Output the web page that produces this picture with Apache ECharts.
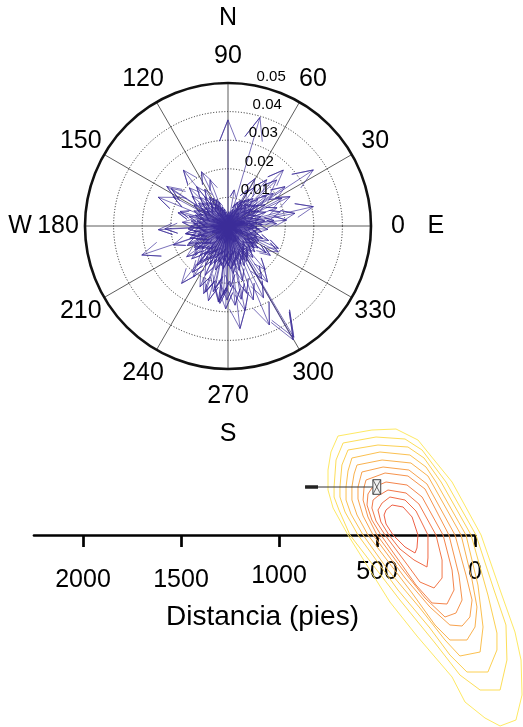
<!DOCTYPE html>
<html><head><meta charset="utf-8">
<script src="https://cdn.jsdelivr.net/npm/echarts@6/dist/echarts.min.js"></script>
<style>html,body{margin:0;padding:0;background:#fff}#c{width:523px;height:727px}</style>
</head><body><div id="c"></div>
<script>
const FONT = '"Liberation Sans", Arial, Helvetica, sans-serif';

// ---- polar (compass) data ----
const angleTicks = [0, 30, 60, 90, 120, 150, 180, 210, 240, 270, 300, 330];
const angleTickLabels = ['0', '30', '60', '90', '120', '150', '180', '210', '240', '270', '300', '330'];
const compassAngles = [0, 90, 180, 270];
const compassLetters = ['E', 'N', 'W', 'S'];
const radiusTicks = [0.01, 0.02, 0.03, 0.04, 0.05];
const radiusTickLabels = ['0.01', '0.02', '0.03', '0.04', '0.05'];

// [angle (deg), magnitude]
const longVectors = [
  [90, 0.0371], [73.6, 0.0396], [33.3, 0.0357], [12.8, 0.0306], [45.3, 0.0275], [10.7, 0.0238],
  [27.2, 0.0212], [43.4, 0.0234], [50.1, 0.0211], [20.4, 0.0183], [6.9, 0.0162], [38.2, 0.0171],
  [55.4, 0.0166], [62.3, 0.0142], [5.8, 0.0206], [35.8, 0.0195], [34.6, 0.0242],
  [299.8, 0.0459], [300.6, 0.0452], [292.7, 0.0375], [276.7, 0.0361], [281.4, 0.0301], [275.1, 0.0278],
  [264.0, 0.0272], [269.2, 0.0259], [263.1, 0.0268], [250.2, 0.0251], [251.3, 0.0244], [231.0, 0.0258],
  [232.4, 0.0204], [231.6, 0.0175], [198.6, 0.0318], [183.0, 0.0244], [182.5, 0.0221], [336.1, 0.0193],
  [332.7, 0.0198], [340.3, 0.0151], [128.6, 0.0250], [116.0, 0.0211], [111.2, 0.0173], [147.1, 0.0255],
  [157.6, 0.0264], [146.5, 0.0238], [151.8, 0.0217], [163.0, 0.0175], [128.5, 0.0176], [199.0, 0.0202],
  [216.6, 0.0180], [235.6, 0.0215], [245.2, 0.0234], [257.4, 0.0235], [262.7, 0.0267], [288.9, 0.0273],
  [285.5, 0.0244], [276.4, 0.0167], [324.7, 0.0163], [320.8, 0.0114], [258.3, 0.0221], [266.1, 0.0240],
  [272.4, 0.0213], [284.8, 0.0198], [245.0, 0.0190], [240.3, 0.0160], [222.1, 0.0171], [215.2, 0.0142],
  [205.4, 0.0158], [190.2, 0.0151], [175.3, 0.0160], [165.1, 0.0181], [140.2, 0.0163], [135.4, 0.0190],
  [122.3, 0.0152], [80.2, 0.0128], [60.4, 0.0190], [25.3, 0.0240], [15.2, 0.0190], [2.8, 0.0170],
  [355.1, 0.0140], [325.2, 0.0180], [310.4, 0.0200], [305.2, 0.0240], [296.3, 0.0280], [302.5, 0.0220],
  [280.2, 0.0260], [268.4, 0.0290], [255.3, 0.0270]
];
const shortVectors = [
  [0.8,0.009],[2.3,0.012],[4.1,0.007],[6.2,0.010],[7.9,0.013],[10.4,0.008],[11.8,0.011],[14.3,0.006],[16.1,0.012],[17.7,0.009],[20.2,0.014],[22.1,0.010],[23.6,0.007],[26.3,0.012],[28.1,0.011],[29.8,0.015],
  [32.4,0.009],[34.1,0.013],[35.7,0.010],[38.3,0.012],[40.2,0.008],[41.7,0.014],[44.2,0.011],[46.3,0.009],[47.8,0.013],[50.4,0.010],[52.1,0.012],[53.6,0.008],[56.2,0.011],[58.3,0.009],[59.7,0.010],
  [62.2,0.007],[64.1,0.010],[65.8,0.006],[68.3,0.009],[70.1,0.005],[71.6,0.008],[74.2,0.006],[76.3,0.004],[77.9,0.005],[80.3,0.003],[82.1,0.004],[83.7,0.003],[86.2,0.005],[88.1,0.003],[89.6,0.004],
  [92.3,0.003],[94.1,0.004],[95.7,0.003],[98.2,0.005],[100.3,0.004],[101.8,0.006],[104.2,0.005],[106.1,0.007],[107.6,0.006],[110.3,0.009],[112.2,0.007],[113.7,0.010],[116.3,0.008],[118.1,0.011],[119.8,0.009],
  [122.2,0.012],[124.1,0.008],[125.8,0.010],[128.3,0.013],[130.1,0.009],[131.7,0.011],[134.2,0.014],[136.3,0.008],[137.8,0.012],[140.4,0.010],[142.1,0.013],[143.6,0.009],[146.2,0.011],[148.3,0.014],[149.7,0.010],
  [152.2,0.012],[154.1,0.009],[155.8,0.013],[158.3,0.011],[160.1,0.008],[161.6,0.012],[164.2,0.010],[166.3,0.014],[167.9,0.009],[170.4,0.011],[172.2,0.013],[173.7,0.010],[176.2,0.012],[178.1,0.009],[179.8,0.013],
  [182.3,0.011],[184.1,0.014],[185.7,0.010],[188.2,0.012],[190.3,0.015],[191.8,0.009],[194.2,0.013],[196.1,0.011],[197.6,0.014],[200.3,0.010],[202.2,0.012],[203.7,0.015],[206.3,0.011],[208.1,0.013],[209.8,0.010],
  [212.2,0.014],[214.1,0.011],[215.8,0.013],[218.3,0.010],[220.1,0.015],[221.6,0.012],[224.2,0.009],[226.3,0.014],[227.9,0.011],[230.4,0.013],[232.2,0.016],[233.7,0.010],[236.2,0.012],[238.1,0.014],[239.8,0.011],
  [242.3,0.013],[244.1,0.010],[245.7,0.015],[248.2,0.012],[250.3,0.014],[251.8,0.011],[254.2,0.016],[256.1,0.013],[257.6,0.010],[260.3,0.014],[262.2,0.012],[263.7,0.015],[266.3,0.011],[268.1,0.013],[269.8,0.014],
  [272.2,0.012],[274.1,0.015],[275.8,0.011],[278.3,0.014],[280.1,0.013],[281.6,0.010],[284.2,0.016],[286.3,0.012],[287.9,0.014],[290.4,0.011],[292.2,0.015],[293.7,0.013],[296.2,0.012],[298.1,0.014],[299.8,0.011],
  [302.3,0.013],[304.1,0.010],[305.7,0.012],[308.2,0.014],[310.3,0.009],[311.8,0.012],[314.2,0.011],[316.1,0.013],[317.6,0.009],[320.3,0.012],[322.2,0.010],[323.7,0.013],[326.3,0.011],[328.1,0.009],[329.8,0.012],
  [332.2,0.010],[334.1,0.012],[335.8,0.008],[338.3,0.011],[340.1,0.013],[341.6,0.009],[344.2,0.011],[346.3,0.007],[347.9,0.010],[350.4,0.012],[352.2,0.008],[353.7,0.011],[356.2,0.009],[358.1,0.010]
];
const tinyVectors = [
  [3.4,0.004],[18.6,0.005],[31.2,0.003],[49.5,0.006],[67.3,0.004],[97.1,0.002],[121.4,0.005],[139.2,0.004],[157.3,0.006],[171.5,0.003],
  [186.4,0.005],[201.2,0.006],[217.5,0.004],[229.1,0.006],[243.6,0.005],[258.9,0.006],[271.3,0.004],[289.2,0.006],[301.5,0.005],[318.4,0.004],
  [333.3,0.006],[348.6,0.003],[9.1,0.006],[43.3,0.005],[127.6,0.006],[193.3,0.004],[211.4,0.005],[238.7,0.006],[253.1,0.004],[282.6,0.005],
  [309.2,0.006],[341.2,0.005],[178.9,0.006],[148.7,0.005],[164.4,0.004],[224.8,0.006],[266.7,0.005],[295.3,0.006],[327.5,0.004],[13.7,0.005]
];

// ---- distance panel data ----
const distanceTicks = [0, 500, 1000, 1500, 2000];
const whiskerFeet = [867, 521];
const whiskerCapFeet = [867, 801];
const boxFeet = [521, 481];
const boxLevel = 48;
// contour polylines [distance (ft), relative level], inner -> outer
const contourLevels = [
  [[454,25],[423,30],[367,28],[321,18],[291,0],[296,-13],[306,-18],[357,-12],[418,0],[454,11],[464,20]],
  [[474,32],[434,38],[357,35],[301,24],[240,0],[240,-23],[245,-32],[311,-25],[383,-14],[439,0],[480,13],[495,25]],
  [[495,39],[444,45],[352,42],[286,31],[199,0],[168,-25],[168,-43],[209,-53],[281,-47],[352,-28],[459,0],[505,14],[526,27],[520,35]],
  [[526,47],[454,53],[347,50],[270,38],[163,0],[117,-35],[107,-55],[143,-69],[219,-68],[301,-50],[480,0],[526,15],[551,30],[546,41]],
  [[556,55],[459,62],[342,59],[255,46],[133,0],[82,-40],[66,-65],[97,-78],[153,-82],[255,-63],[383,-31],[500,0],[546,18],[571,35],[566,48]],
  [[577,63],[469,68],[337,65],[245,51],[102,0],[46,-40],[15,-65],[26,-82],[66,-91],[128,-90],[230,-72],[357,-43],[520,0],[571,19],[597,36],[597,48]],
  [[602,70],[474,75],[327,72],[240,59],[71,0],[15,-45],[-10,-72],[0,-92],[41,-105],[128,-105],[204,-90],[321,-58],[546,0],[602,20],[628,35],[628,48],[617,61]],
  [[628,77],[485,83],[332,80],[250,68],[199,53],[46,0],[-15,-50],[-41,-92],[-26,-117],[77,-121],[153,-105],[281,-73],[444,-35],[571,0],[633,21],[658,35],[658,48],[648,64]],
  [[648,85],[495,90],[342,88],[260,77],[173,53],[20,0],[-66,-60],[-112,-98],[-112,-115],[-66,-137],[41,-137],[128,-120],[230,-93],[393,-55],[597,0],[663,23],[689,38],[689,48],[679,70]],
  [[673,92],[505,98],[357,96],[270,85],[148,53],[-5,0],[-97,-55],[-158,-90],[-163,-125],[-128,-155],[-26,-155],[77,-140],[204,-108],[383,-65],[638,0],[694,25],[719,38],[719,48],[709,75]],
  [[699,99],[526,105],[403,106],[291,95],[117,53],[-31,0],[-128,-55],[-204,-97],[-235,-125],[-240,-160],[-209,-185],[-128,-191],[-51,-183],[51,-167],[117,-142],[296,-101],[434,-67],[648,0],[724,27],[750,45],[750,65],[735,83]]
];
const contourColors = ['#ee6045','#f06b47','#f27749','#f4844b','#f6934c','#f8a24d','#f9b14e','#fbc050','#fcd052','#fdde58','#fee963'];

const chart = echarts.init(document.getElementById('c'), null, { renderer: 'canvas' });

const arrowData = longVectors.concat(shortVectors, tinyVectors).map(v => [v[1], v[0]]);

function arrowItem(params, api) {
  const r = api.value(0), a = api.value(1);
  const o = api.coord([0, a]);
  const tip = api.coord([r, a]);
  const w1 = api.coord([r * 0.80399, a + 5.7106]);
  const w2 = api.coord([r * 0.80399, a - 5.7106]);
  return {
    type: 'polyline',
    shape: { points: [o, tip, w1, tip, w2] },
    style: { stroke: '#3b2d99', lineWidth: 0.75, fill: null, opacity: 0.9 }
  };
}

function centeredTextSeries(name, data, texts, fontSize) {
  return {
    name, type: 'custom', coordinateSystem: 'polar', silent: true, z: 20,
    data,
    renderItem(params, api) {
      const p = api.coord([api.value(0), api.value(1)]);
      return {
        type: 'text', x: p[0], y: p[1],
        style: { text: texts[params.dataIndex], fill: '#000', fontSize, fontFamily: FONT, align: 'center', verticalAlign: 'middle' }
      };
    }
  };
}

const series = [];
// contours (outer drawn first)
series.push({
  type: 'custom', coordinateSystem: 'cartesian2d', silent: true, z: 2, clip: false,
  data: contourLevels.map((c, k) => [c[0][0], c[0][1], k]).reverse(),
  renderItem(params, api) {
    const k = contourLevels.length - 1 - params.dataIndex;
    const pts = contourLevels[k].map(p => api.coord(p));
    return {
      type: 'polygon',
      shape: { points: pts },
      style: { stroke: contourColors[k], lineWidth: 1, fill: null }
    };
  }
});
// box / whisker
series.push({
  type: 'custom', coordinateSystem: 'cartesian2d', silent: true, z: 5, clip: false,
  data: [[boxFeet[0], boxLevel]],
  renderItem(params, api) {
    const a = api.coord([whiskerFeet[0], boxLevel]);
    const b = api.coord([whiskerFeet[1], boxLevel]);
    const c = api.coord([whiskerCapFeet[1], boxLevel]);
    const bl = api.coord([boxFeet[0], boxLevel]);
    const br = api.coord([boxFeet[1], boxLevel]);
    const h = 7.3;
    return {
      type: 'group', children: [
        { type: 'line', shape: { x1: a[0], y1: a[1], x2: b[0], y2: b[1] }, style: { stroke: '#333', lineWidth: 1 } },
        { type: 'line', shape: { x1: a[0], y1: a[1], x2: c[0], y2: c[1] }, style: { stroke: '#222', lineWidth: 3.5 } },
        { type: 'rect', shape: { x: bl[0], y: bl[1] - h, width: br[0] - bl[0], height: 2 * h }, style: { stroke: '#444', fill: '#f2f2f2', lineWidth: 1 } },
        { type: 'line', shape: { x1: bl[0], y1: bl[1] - h, x2: br[0], y2: br[1] + h }, style: { stroke: '#444', lineWidth: 0.8 } },
        { type: 'line', shape: { x1: bl[0], y1: bl[1] + h, x2: br[0], y2: br[1] - h }, style: { stroke: '#444', lineWidth: 0.8 } }
      ]
    };
  }
});
// arrows
series.push({ type: 'custom', coordinateSystem: 'polar', silent: true, z: 10, data: arrowData, renderItem: arrowItem });
// angle labels, compass letters
series.push(centeredTextSeries('angleLabels', angleTicks.map(a => [0.05944, a]), angleTickLabels, 25));
series.push(centeredTextSeries('compass', compassAngles.map(a => [0.0727, a]), compassLetters, 25));
// radius labels
series.push({
  type: 'custom', coordinateSystem: 'polar', silent: true, z: 20,
  data: radiusTicks.map(r => [r + 0.0005, 82]),
  renderItem(params, api) {
    const p = api.coord([api.value(0), api.value(1)]);
    return {
      type: 'text', x: p[0] + 8.5, y: p[1] + 1,
      style: { text: radiusTickLabels[params.dataIndex], fill: '#000', fontSize: 15, fontFamily: FONT, align: 'left', verticalAlign: 'bottom' }
    };
  }
});

const option = {
  animation: false,
  backgroundColor: '#fff',
  textStyle: { fontFamily: FONT },
  polar: { center: [228, 226], radius: 143 },
  angleAxis: {
    type: 'value', min: 0, max: 360, interval: 30, startAngle: 0, clockwise: false,
    axisLine: { show: true, lineStyle: { color: '#111', width: 2.6 } },
    axisTick: { show: false }, axisLabel: { show: false },
    splitLine: { show: true, lineStyle: { color: '#333', width: 0.8 } }
  },
  radiusAxis: {
    type: 'value', min: 0, max: 0.05, interval: 0.01,
    axisLine: { show: false }, axisTick: { show: false }, axisLabel: { show: false },
    splitLine: { show: true, lineStyle: { color: '#222', width: 1, type: [1, 1.8] } }
  },
  grid: { left: 34, right: 48, top: 420, bottom: 192 },
  xAxis: {
    type: 'value', inverse: true, min: 0, max: 2250,
    name: 'Distancia (pies)', nameLocation: 'middle', nameGap: 68,
    nameTextStyle: { fontSize: 28, color: '#000', fontFamily: FONT, padding: [0, 0, 0, 16] },
    axisLine: { show: true, lineStyle: { color: '#000', width: 2.7 } },
    axisTick: { show: true, length: 12, lineStyle: { color: '#000', width: 2.7 }, customValues: distanceTicks },
    axisLabel: {
      customValues: distanceTicks, margin: 25, color: '#000', fontSize: 25, fontFamily: FONT,
      formatter: v => `{${v >= 1500 ? 'lo' : (v === 1000 ? 'mid' : 'hi')}|${v}}`,
      rich: {
        lo: { fontSize: 25, fontFamily: FONT, color: '#000', padding: [8, 0, 0, 0] },
        mid: { fontSize: 25, fontFamily: FONT, color: '#000', padding: [4, 0, 0, 0] },
        hi: { fontSize: 25, fontFamily: FONT, color: '#000' }
      }
    },
    splitLine: { show: false }
  },
  yAxis: { type: 'value', min: 0, max: 115, show: false },
  series
};
chart.setOption(option);
</script>
</body></html>
